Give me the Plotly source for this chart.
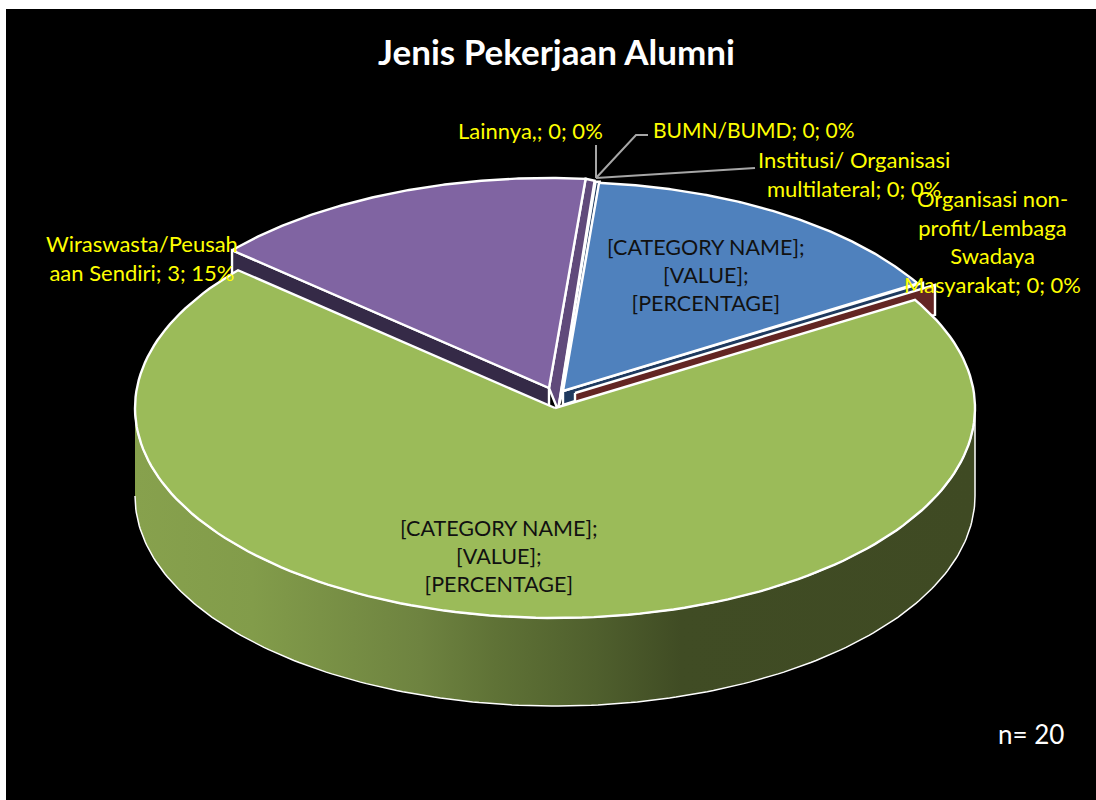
import numpy as np
import plotly.graph_objects as go

# ---- data -------------------------------------------------------------
categories = ["[CATEGORY NAME]", "Organisasi non-profit/Lembaga Swadaya Masyarakat",
              "[CATEGORY NAME]", "Wiraswasta/Peusahaan Sendiri",
              "Lainnya,", "BUMN/BUMD", "Institusi/ Organisasi multilateral"]
values = [3, 0, 14, 3, 0, 0, 0]
title_text = "Jenis Pekerjaan Alumni"
n_text = "n= 20"

# ---- style / geometry (pixels of the 1096x800 page) --------------------
W, H = 1096, 800
CX, CY, RX, RY = 555, 408, 420, 210
DEPTH = 88
START = 85.0
PANEL_L, PANEL_T = 6, 9
FONT = "Lato"

BLUE, RED, GREEN, PURPLE = "#4F81BD", "#C0504D", "#9BBB59", "#8064A2"
NAVY, MAROON, PURPLE_DK, PURPLE_MID = "#1F3A5F", "#632523", "#352A47", "#604A7B"


def ux(px):
    return (px - CX) / RX


def uy(py):
    return (CY - py) / RY


total = sum(values)
angles = START - 360.0 * np.cumsum([0] + values) / total  # clockwise


def rim(deg_from, deg_to, n=160):
    t = np.radians(np.linspace(deg_from, deg_to, n))
    return np.cos(t), np.sin(t)


def poly(fig, x, y, color, line="white", lw=2.4, **kw):
    fig.add_trace(go.Scatter(x=list(x), y=list(y), mode="lines", fill="toself",
                             fillcolor=color,
                             line=dict(color=line, width=lw) if line else dict(width=0, color="rgba(0,0,0,0)"),
                             hoverinfo="skip", showlegend=False, **kw))


def face(fig, i, ax, ay, color, rx=1.0, ry=1.0):
    """pie face of slice i with its apex at pixel (ax, ay)"""
    cx, cy = rim(angles[i], angles[i + 1])
    x = np.concatenate([[ux(ax)], ux(ax) + rx * cx, [ux(ax)]])
    y = np.concatenate([[uy(ay)], uy(ay) + ry * cy, [uy(ay)]])
    poly(fig, x, y, color)


def wall(fig, ang, ax, ay, color, tip=(0, 0), apex=(0, 0), line="white"):
    """side wall along the edge at angle ang, shifted by pixel offsets"""
    t = np.radians(ang)
    x0, y0 = ux(ax), uy(ay)
    x1, y1 = x0 + np.cos(t), y0 + np.sin(t)
    x = [x0, x1, x1 + tip[0] / RX, x0 + apex[0] / RX, x0]
    y = [y0, y1, y1 - tip[1] / RY, y0 - apex[1] / RY, y0]
    poly(fig, x, y, color, line=line)


fig = go.Figure()

# front cylinder wall of the big slice
cx, cy = rim(180, 360, 200)
rev = np.arange(len(cx))[::-1]
xs = np.concatenate([cx, cx[rev]])
ys = np.concatenate([cy - DEPTH / RY, cy[rev]])
fig.add_trace(go.Scatter(
    x=xs, y=ys, mode="lines", fill="toself",
    fillgradient=dict(type="horizontal", colorscale=[
        [0.0, "#87A14D"], [0.14, "#829C4A"], [0.34, "#6E8340"], [0.43, "#5F7236"],
        [0.55, "#4F5F2D"], [0.65, "#404C24"], [1.0, "#3F4A23"]]),
    line=dict(color="white", width=1.5), hoverinfo="skip", showlegend=False))

# purple slice, value index 3
P = (549, 388)
wall(fig, angles[3], P[0], P[1], PURPLE_DK, tip=(0, 22), apex=(0, 22))
wall(fig, angles[4], P[0], P[1], PURPLE_MID, tip=(9, 2), apex=(9, 22))
face(fig, 3, P[0], P[1], PURPLE)

# blue slice, value index 0
B = (563, 391)
wall(fig, angles[0], B[0], B[1], NAVY, tip=(-4, 0), apex=(-4, 14))
wall(fig, angles[1], B[0], B[1], NAVY, tip=(0, 6), apex=(0, 14))
face(fig, 0, B[0], B[1], BLUE, rx=0.985, ry=0.995)

# zero-value slice next to the big one
M = (575, 393)
wall(fig, angles[1], M[0], M[1], MAROON, tip=(0, 30), apex=(0, 30))

# big green slice on top
face(fig, 2, CX, CY, GREEN)

LEADER = "#A6A6A6"
leaders = [
    [(596, 145), (596, 178)],
    [(648, 135), (636, 135), (596, 178)],
    [(596, 178), (755, 168)],
]
for pts in leaders:
    fig.add_trace(go.Scatter(x=[ux(p[0]) for p in pts], y=[uy(p[1]) for p in pts], mode="lines",
                             line=dict(color=LEADER, width=2), hoverinfo="skip", showlegend=False))

YELLOW = "#FFFF00"
DARK = "#111111"
pct = [f"{round(100 * v / total)}%" for v in values]
labels = [
    (530, 130, f"Lainnya,; {values[4]}; {pct[4]}", YELLOW, 22),
    (753, 129, f"BUMN/BUMD; {values[5]}; {pct[5]}", YELLOW, 21),
    (854, 174, f"Institusi/ Organisasi<br>multilateral; {values[6]}; {pct[6]}", YELLOW, 22),
    (992, 241, f"Organisasi non-<br>profit/Lembaga<br>Swadaya<br>Masyarakat; {values[1]}; {pct[1]}", YELLOW, 22),
    (142, 258, f"Wiraswasta/Peusah<br>aan Sendiri; {values[3]}; {pct[3]}", YELLOW, 22),
    (706, 275, "[CATEGORY NAME];<br>[VALUE];<br>[PERCENTAGE]", DARK, 21.5),
    (499, 556, "[CATEGORY NAME];<br>[VALUE];<br>[PERCENTAGE]", DARK, 21.5),
]
ann = [dict(x=ux(a), y=uy(b), text=t, showarrow=False, xref="x", yref="y",
            font=dict(family=FONT, size=s, color=c), align="center", xanchor="center", yanchor="middle")
       for a, b, t, c, s in labels]
ann.append(dict(x=ux(556), y=uy(51), text=f"<b>{title_text}</b>", showarrow=False, xref="x", yref="y",
                font=dict(family=FONT, size=35, color="white"), xanchor="center", yanchor="middle"))
ann.append(dict(x=ux(1031), y=uy(734), text=n_text, showarrow=False, xref="x", yref="y",
                font=dict(family=FONT, size=26, color="white"), xanchor="center", yanchor="middle"))

fig.update_layout(
    width=W, height=H, autosize=False, paper_bgcolor="white", plot_bgcolor="black",
    margin=dict(l=PANEL_L, t=PANEL_T, r=0, b=0, pad=0),
    xaxis=dict(range=[ux(PANEL_L), ux(W)], visible=False, fixedrange=True),
    yaxis=dict(range=[uy(H), uy(PANEL_T)], visible=False, fixedrange=True),
    annotations=ann, showlegend=False,
)
fig.write_html("out.html", config={"displayModeBar": False},
               post_script="document.body.style.margin='0';document.body.style.overflow='hidden';")
